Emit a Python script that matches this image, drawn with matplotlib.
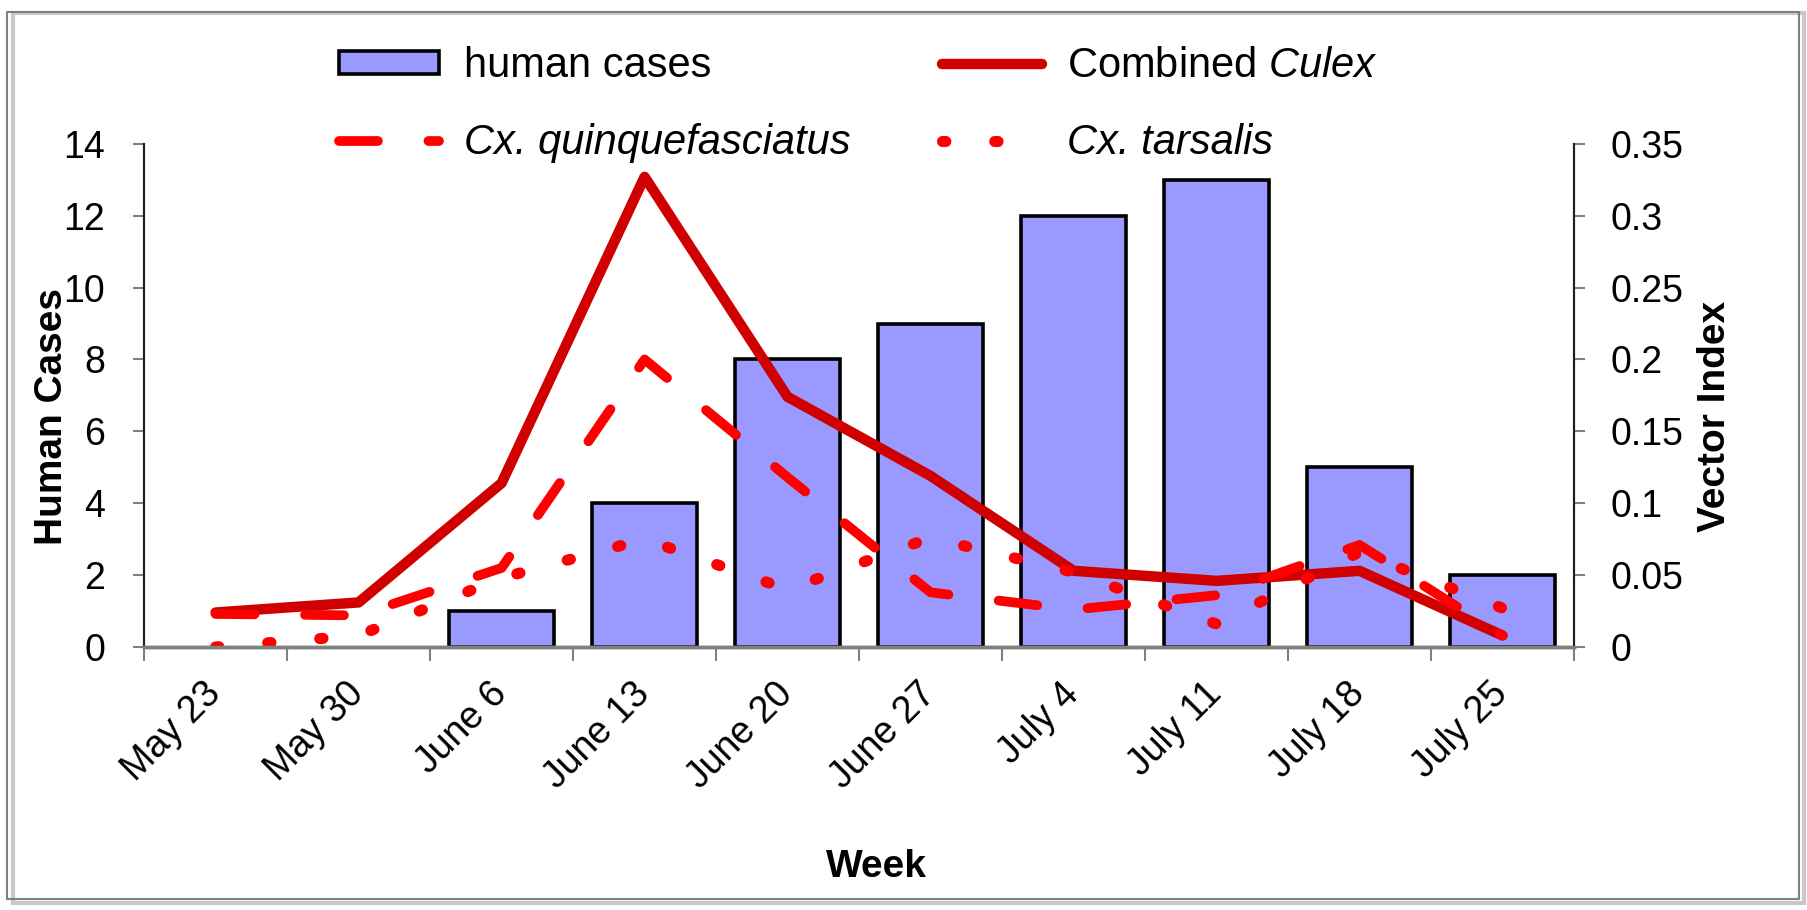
import numpy as np
import matplotlib
matplotlib.use('Agg')
import matplotlib.pyplot as plt
from matplotlib.patches import Rectangle, Patch
from matplotlib.lines import Line2D
from matplotlib.ticker import FormatStrFormatter

plt.rcParams['font.family'] = ['Liberation Sans', 'DejaVu Sans']
plt.rcParams['mathtext.fontset'] = 'custom'
plt.rcParams['mathtext.rm'] = 'Liberation Sans'
plt.rcParams['mathtext.it'] = 'Liberation Sans:italic'

weeks = ['May 23', 'May 30', 'June 6', 'June 13', 'June 20',
         'June 27', 'July 4', 'July 11', 'July 18', 'July 25']
human_cases = [0, 0, 1, 4, 8, 9, 12, 13, 5, 2]
combined_culex = [0.024, 0.031, 0.114, 0.327, 0.174, 0.119, 0.053, 0.046, 0.053, 0.008]
quinquefasciatus = [0.023, 0.022, 0.055, 0.200, 0.118, 0.038, 0.026, 0.036, 0.071, 0.008]
tarsalis = [0.000, 0.008, 0.048, 0.075, 0.040, 0.076, 0.052, 0.016, 0.066, 0.027]

x = np.arange(len(weeks))

fig = plt.figure(figsize=(18.08, 9.10), dpi=100)
ax = fig.add_axes([0.0797, 0.289, 0.7909, 0.553])
ax2 = ax.twinx()

# bars on the left axis (no outline for empty weeks)
edge_w = [2.6 if v > 0 else 0 for v in human_cases]
ax.bar(x, human_cases, width=0.73, color='#9999FF', edgecolor='black', linewidth=edge_w)

# vector index lines on the right axis
ax2.plot(x, combined_culex, color='#D00000', lw=7.5, solid_capstyle='round',
         solid_joinstyle='round')
ax2.plot(x, quinquefasciatus, color='#FF0000', lw=7, dashes=(4, 5.2),
         dash_capstyle='round')
ax2.plot(x, tarsalis, color='#FF0000', lw=8, dashes=(0.3, 4.4),
         dash_capstyle='round')

ax.set_xlim(-0.5, 9.5)
ax.set_ylim(0, 14)
ax2.set_ylim(0, 0.35)
ax.set_yticks(np.arange(0, 15, 2))
ax2.set_yticks(np.arange(0, 0.36, 0.05))
ax2.yaxis.set_major_formatter(FormatStrFormatter('%g'))

ax.set_xticks(x)
ax.set_xticklabels(weeks, rotation=45, ha='right', va='center',
                   rotation_mode='anchor')
ax.set_xticks(np.arange(-0.5, 10, 1), minor=True)
ax.tick_params(axis='x', which='major', length=0, pad=30, labelsize=27)
ax.tick_params(axis='x', which='minor', length=10, width=1.5, color='#808080')
ax.tick_params(axis='y', length=8, width=1.5, color='#808080', pad=20, labelsize=27)
ax2.tick_params(axis='y', length=8, width=1.5, color='#808080', pad=18, labelsize=27)

for a in (ax, ax2):
    a.spines['top'].set_visible(False)
    a.spines['bottom'].set_color('#808080')
    a.spines['bottom'].set_linewidth(2.5)
    a.spines['left'].set_color('#202020')
    a.spines['left'].set_linewidth(1.5)
    a.spines['right'].set_color('#202020')
    a.spines['right'].set_linewidth(1.5)

fig.text(0.0288, 0.542, 'Human Cases', rotation=90, ha='center', va='center',
         fontsize=28, fontweight='bold')
fig.text(0.9485, 0.542, 'Vector Index', rotation=90, ha='center', va='center',
         fontsize=28, fontweight='bold')
fig.text(0.4845, 0.047, 'Week', ha='center', va='center',
         fontsize=28, fontweight='bold')

handles = [
    Patch(facecolor='#9999FF', edgecolor='black', linewidth=2.6),
    Line2D([], [], color='#FF0000', lw=7, dashes=(4, 5.2), dash_capstyle='round'),
    Line2D([], [], color='#D00000', lw=7.5, solid_capstyle='round'),
    Line2D([], [], color='#FF0000', lw=8, dashes=(0.3, 4.4), dash_capstyle='round'),
]
labels = ['human cases', 'Cx. quinquefasciatus', r'Combined $\mathit{Culex}$', 'Cx. tarsalis']
leg = fig.legend(handles, labels, ncol=2, loc='upper left', bbox_to_anchor=(0.176, 0.972),
                 frameon=False, fontsize=30, handlelength=2.4, handleheight=0.5,
                 handletextpad=0.6, columnspacing=2.2, labelspacing=0.88, borderpad=0)
leg.get_texts()[1].set_style('italic')
leg.get_texts()[3].set_style('italic')

# outer frame with a light shadow
fig.patches.append(Rectangle((0.007, 0.008), 0.991, 0.978, transform=fig.transFigure,
                             fill=False, edgecolor='#C8C8C8', linewidth=3, zorder=0))
fig.patches.append(Rectangle((0.004, 0.012), 0.991, 0.975, transform=fig.transFigure,
                             fill=False, edgecolor='#808080', linewidth=1.5, zorder=1))

fig.savefig('out.png', dpi=100)
